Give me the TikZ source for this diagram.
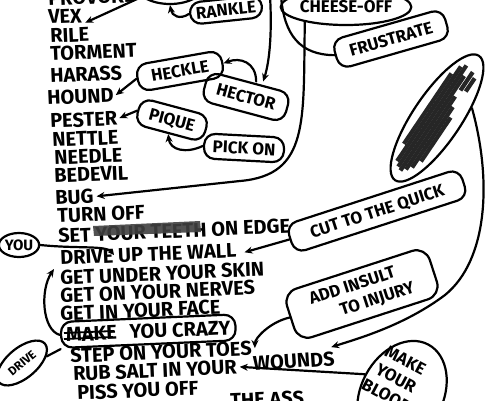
\documentclass[tikz,border=0pt]{standalone}
\usepackage{fontspec}
\setmainfont{Fira Sans}
\usetikzlibrary{arrows.meta,shapes.geometric}
\newcommand\wordfnt{\fontsize{20}{20}\selectfont\bfseries}
\newcommand\pillfnt{\fontsize{17}{20}\selectfont\bfseries}
\begin{document}
\begin{tikzpicture}[x=1pt,y=-1pt,
 ink/.style={line width=2.2pt,line cap=round,line join=round},
 word/.style={anchor=west,font=\wordfnt,inner sep=0pt,text height=14pt,text depth=0pt,rotate=2.5},
 pill/.style={draw,ink,rectangle,rounded corners=11pt,font=\pillfnt,inner xsep=6pt,inner ysep=0pt,text height=12pt,text depth=0pt},
 oval/.style={draw,ink,ellipse,inner sep=0pt,font=\pillfnt},
 cloudbox/.style={draw,ink,rectangle,rounded corners=14pt,font=\pillfnt,align=left,inner xsep=8pt,inner ysep=8pt},
 arr/.style={ink,-{Stealth[length=8pt,width=7pt]}},
 smallarr/.style={ink,-{Stealth[length=6pt,width=6pt]}},
]
\useasboundingbox (0,0) rectangle (500,400);
\fill[white] (0,0) rectangle (500,400);
\clip (0,0) rectangle (500,400);

% word list
\node[word] (provoke) at (48,-1) {PROVOKE};
\node[word] (vex) at (48,17) {VEX};
\node[word] (rile) at (50,36) {RILE};
\node[word] (torment) at (50,54) {TORMENT};
\node[word] (harass) at (50,76) {HARASS};
\node[word] (hound) at (47,98) {HOUND};
\node[word] (pester) at (50,121) {PESTER};
\node[word] (nettle) at (52,140) {NETTLE};
\node[word] (needle) at (54,158) {NEEDLE};
\node[word] (bedevil) at (54,176) {BEDEVIL};
\node[word] (bug) at (55,198) {BUG};
\node[word] (turnoff) at (57,216) {TURN OFF};
\node[word] (teeth) at (58,236) {SET YOUR TEETH ON EDGE};
\node[word] (wall) at (60,258) {DRIVE UP THE WALL};
\node[word] (skin) at (60,278) {GET UNDER YOUR SKIN};
\node[word] (nerves) at (60,296) {GET ON YOUR NERVES};
\node[word] (face) at (60,314) {GET IN YOUR FACE};
\node[word,draw,ink,rounded corners=11pt,inner xsep=5pt,minimum height=26pt] (crazy) at (60,335) {MAKE\hspace{8pt} YOU CRAZY};
\node[word] (toes) at (70,356) {STEP ON YOUR TOES};
\node[word] (rub) at (73,374) {RUB SALT IN YOUR};
\node[word,rotate=1.5] (wounds) at (253,364) {WOUNDS};
\node[word] (piss) at (77,393) {PISS YOU OFF};
\node[word] (ass) at (230,401) {THE ASS};

% scribbles over crossed-out words
\fill[black!75,opacity=0.9] (93,226) -- (200,221) -- (201,232) -- (94,236) -- cycle;
\draw[line width=1.8pt] (64,333) -- (114,331);
\draw[line width=1.8pt] (64,339) -- (113,337);

% bubbles
\node[oval,minimum width=70pt,minimum height=40pt] (topnode) at (170,-16) {};
\node[pill,rotate=6,minimum width=72pt,minimum height=22pt] (rankle) at (226,10) {RANKLE};
\node[oval,minimum width=128pt,minimum height=36pt] (cheese) at (346,7) {CHEESE-OFF};
\node[pill,rotate=16,minimum width=115pt,minimum height=30pt] (frustrate) at (391,39) {FRUSTRATE};
\node[pill,rotate=10,minimum width=86pt,minimum height=27pt] (heckle) at (180,71) {HECKLE};
\node[pill,rotate=-15,minimum width=85pt,minimum height=30pt] (hector) at (246,97) {HECTOR};
\node[pill,rotate=-15,minimum width=70pt,minimum height=27pt] (pique) at (172,120) {PIQUE};
\node[pill,rotate=-3,minimum width=80pt,minimum height=25pt] (pickon) at (244,148) {PICK ON};
\node[oval,rotate=56,minimum width=150pt,minimum height=48pt] (scrib) at (437,118) {};
\node[pill,rotate=18,minimum width=182pt,minimum height=30pt] (cut) at (377,211) {CUT TO THE QUICK};
\node[cloudbox,rotate=18,minimum width=150pt] (insult) at (362,294) {ADD INSULT\\\hspace*{26pt}TO INJURY};
\node[oval,rotate=-28,minimum width=82pt,minimum height=112pt] (blood) at (402,394) {};
\node[font=\pillfnt,rotate=-28,align=center] (bloodtext) at (396,378) {MAKE\\YOUR\\BLOOD};
\node[oval,minimum width=40pt,minimum height=24pt,font=\fontsize{15}{15}\selectfont\bfseries] (you) at (19,245) {YOU};
\node[oval,rotate=40,minimum width=60pt,minimum height=30pt,font=\fontsize{12}{12}\selectfont\bfseries] (drive) at (22,363) {DRIVE};

% scribbled-out bubble content
\begin{scope}[shift={(437,118)},rotate=56]
 \foreach \v/\a/\b in {-13/-40/45, -9/-58/56, -5/-62/60, -1/-64/50, 3/-60/28, 7/-55/18, 11/-45/8, 4/36/58, 9/38/54}
  \draw[line width=4.2pt,black!85] (\a,\v) -- (\b,\v);
\end{scope}

% free ends
\coordinate (offa) at (270,-4);
\coordinate (offb) at (281,-4);
\coordinate (ins) at (114,255);
\coordinate (up2) at (54,269);

% connectors
\draw[arr] (topnode) -- ([shift={(3,0)}]vex.south east);
\draw[arr] (rankle.west) .. controls (180,20) and (172,16) .. (topnode.south);
\draw[arr] (offa) .. controls (272,30) and (270,60) .. ([xshift=13pt]hector.north);
\draw[ink] (offb) .. controls (284,35) and (300,55) .. (frustrate.west);
\draw[arr] (cheese.200) .. controls (303,120) and (310,175) .. (240,181) -- ([xshift=3pt]bug.east);
\draw[arr] (heckle.west) -- ([xshift=2pt]hound.east);
\draw[arr] ([xshift=6pt]hector.north) .. controls (256,62) and (240,57) .. (heckle.east);
\draw[arr] (pique.west) -- ([xshift=2pt]pester.east);
\draw[arr] (pickon.west) .. controls (186,154) and (170,150) .. (pique.south);
\draw[arr] (scrib.-40) .. controls (492,180) and (488,260) .. (445,295) .. controls (405,325) and (360,338) .. ([shift={(-3,-4)}]wounds.north east);
\draw[arr] (cut.west) -- ([shift={(8,2)}]wall.east);
\draw[arr] (insult.west) .. controls (270,322) and (255,338) .. ([xshift=3pt]toes.east);
\draw[arr] (blood.west) -- ([xshift=3pt]rub.east);
\draw[smallarr] (you.east) .. controls (80,249) and (106,245) .. (ins);
\draw[ink] (drive.-25) -- (crazy.south west);
\draw[arr] (crazy.west) .. controls (42,330) and (40,290) .. (up2);
\end{tikzpicture}
\end{document}
